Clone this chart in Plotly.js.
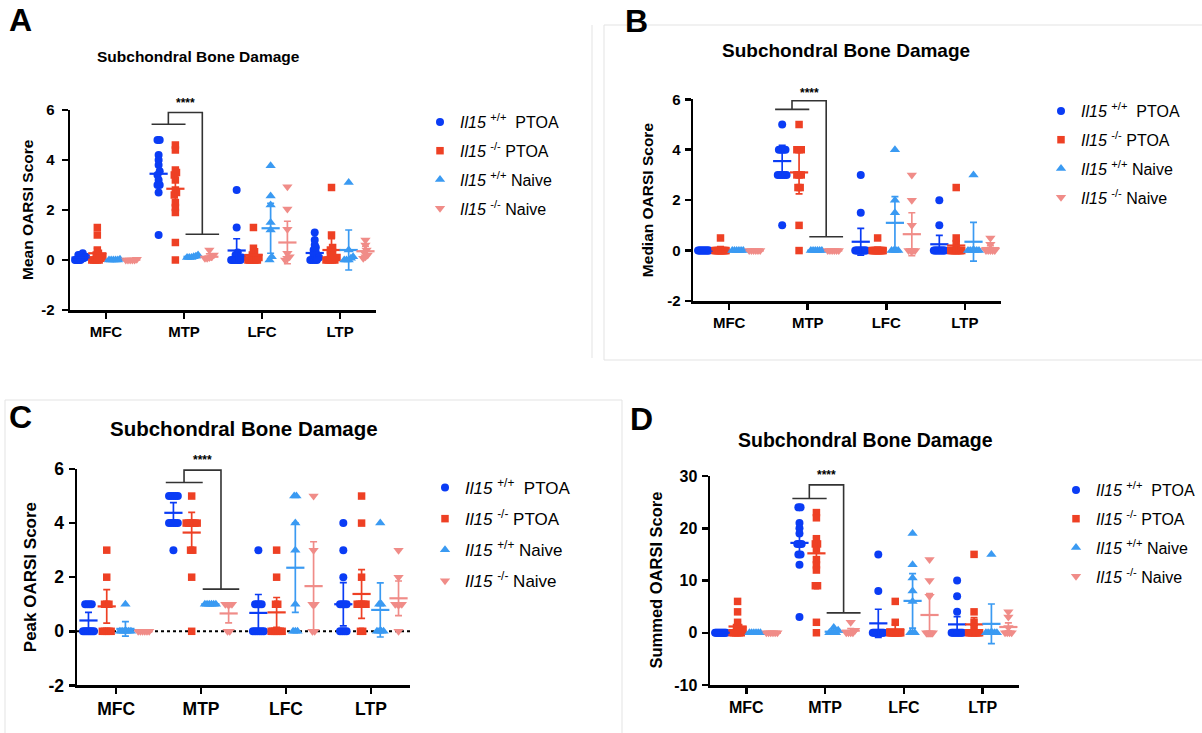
<!DOCTYPE html>
<html><head><meta charset="utf-8">
<script src="https://cdn.plot.ly/plotly-3.0.1.min.js"></script>
<style>html,body{margin:0;padding:0;background:#fff;}#chart{width:1202px;height:733px;}</style>
</head><body><div id="chart"></div>
<script>
// ---------- DATA ----------
const categories = ['MFC', 'MTP', 'LFC', 'LTP'];
const groupLabels = [
  '<i>Il15</i> <sup>+/+</sup>  PTOA',
  '<i>Il15</i> <sup>-/-</sup> PTOA',
  '<i>Il15</i> <sup>+/+</sup> Naive',
  '<i>Il15</i> <sup>-/-</sup> Naive'
];

// Panel A: Mean OARSI Score (per category: MFC, MTP, LFC, LTP)
const meanScore_wtPTOA = [
  [0.27, 0.2, 0.2, 0.13, 0.1, 0.07, 0.07, 0, 0, 0, 0, 0],
  [4.8, 4.8, 4.2, 4.0, 3.8, 3.55, 3.4, 3.2, 3.0, 3.0, 2.7, 1.0],
  [2.8, 1.3, 0.3, 0.2, 0.1, 0, 0, 0, 0, 0, 0, 0],
  [1.1, 0.8, 0.6, 0.5, 0.4, 0.3, 0.2, 0.1, 0, 0, 0, 0]
];
const meanScore_koPTOA = [
  [1.3, 1.0, 0.4, 0.27, 0.2, 0.13, 0.07, 0, 0, 0, 0, 0],
  [4.6, 4.4, 3.6, 3.5, 3.4, 3.2, 2.8, 2.7, 2.6, 2.3, 2.1, 1.9, 0.7, 0],
  [1.3, 0.47, 0.33, 0.2, 0.1, 0, 0, 0, 0, 0, 0, 0],
  [2.9, 1.0, 0.5, 0.4, 0.3, 0.2, 0.1, 0, 0, 0, 0, 0]
];
const meanScore_wtNaive = [
  [0.03, 0, 0, 0, 0, 0],
  [0.2, 0.15, 0.13, 0.1, 0.1, 0.1],
  [3.77, 2.56, 2.2, 1.5, 1.2, 0.13, 0],
  [3.1, 0.4, 0.13, 0.07, 0, 0, 0]
];
const meanScore_koNaive = [
  [0.03, 0, 0, 0, 0, 0],
  [0.4, 0.2, 0.13, 0.07, 0.07, 0.1],
  [2.93, 2.04, 1.23, 0.27, 0.13, 0.07, 0],
  [0.8, 0.6, 0.4, 0.3, 0.2, 0.13, 0.07]
];
const meanScore_avg = [[0.1, 3.45, 0.38, 0.28], [0.27, 2.85, 0.2, 0.4], [0.01, 0.13, 1.27, 0.4], [0.01, 0.13, 0.7, 0.35]];
const meanScore_err = [[0.06, 0.5, 0.47, 0.2], [0.2, 0.7, 0.2, 0.45], [0.01, 0.03, 1.0, 0.8], [0.01, 0.12, 0.85, 0.2]];
const meanScore_sig = [5.43, 5.9, 1.03, 6.27];   // left bar, top, right bar, stars

// Panel B: Median OARSI Score
const medianScore_wtPTOA = [
  [0, 0, 0, 0, 0, 0, 0, 0, 0, 0, 0, 0],
  [5, 4, 4, 4, 4, 3, 3, 3, 3, 3, 1],
  [3, 1.5, 0, 0, 0, 0, 0, 0, 0, 0, 0, 0],
  [2, 1, 0, 0, 0, 0, 0, 0, 0, 0, 0, 0]
];
const medianScore_koPTOA = [
  [0.5, 0, 0, 0, 0, 0, 0, 0, 0, 0, 0, 0],
  [5, 4, 4, 4, 3, 3, 3, 2.5, 2.5, 1, 0],
  [0.5, 0, 0, 0, 0, 0, 0, 0, 0, 0, 0, 0],
  [2.5, 0.5, 0.25, 0, 0, 0, 0, 0, 0, 0, 0, 0]
];
const medianScore_wtNaive = [
  [0, 0, 0, 0, 0, 0],
  [0, 0, 0, 0, 0, 0],
  [4, 2, 1.5, 0, 0, 0, 0],
  [3, 0, 0, 0, 0, 0, 0]
];
const medianScore_koNaive = [
  [0, 0, 0, 0, 0, 0],
  [0, 0, 0, 0, 0, 0],
  [3, 2, 1, 0, 0, 0, 0],
  [0.5, 0.25, 0, 0, 0, 0, 0]
];
const medianScore_avg = [[0, 3.55, 0.35, 0.25], [0.04, 3.1, 0.05, 0.2], [0, 0, 1.1, 0.35], [0, 0, 0.65, 0.1]];
const medianScore_err = [[0, 0.62, 0.53, 0.35], [0.12, 0.85, 0.08, 0.2], [0, 0, 1.04, 0.77], [0, 0, 0.85, 0.1]];
const medianScore_sig = [5.6, 5.94, 0.55, 6.26];

// Panel C: Peak OARSI Score
const peakScore_wtPTOA = [
  [1, 1, 1, 1, 0, 0, 0, 0, 0, 0, 0],
  [5, 5, 5, 5, 5, 4, 4, 4, 4, 4, 3],
  [3, 1, 1, 1, 1, 0, 0, 0, 0, 0, 0],
  [4, 3, 2, 1, 1, 1, 1, 0, 0, 0, 0]
];
const peakScore_koPTOA = [
  [3, 2, 1, 1, 1, 0, 0, 0, 0, 0],
  [5, 4, 4, 4, 4, 4, 4, 3, 3, 2, 0],
  [3, 2, 1, 1, 0, 0, 0, 0, 0, 0, 0],
  [5, 4, 2, 1, 1, 1, 1, 1, 0, 0]
];
const peakScore_wtNaive = [
  [1, 0, 0, 0, 0, 0, 0],
  [1, 1, 1, 1, 1, 1],
  [5, 5, 4, 3, 1, 0, 0, 0],
  [4, 1, 1, 0, 0, 0, 0]
];
const peakScore_koNaive = [
  [0, 0, 0, 0, 0, 0],
  [1, 1, 1, 1, 0, 0],
  [5, 3, 1, 1, 0, 0],
  [3, 2, 1, 1, 1, 1, 0]
];
const peakScore_avg = [[0.4, 4.38, 0.68, 1.0], [0.92, 3.65, 0.7, 1.38], [0.09, 1.0, 2.35, 0.79], [0, 0.66, 1.67, 1.22]];
const peakScore_err = [[0.3, 0.38, 0.68, 0.8], [0.62, 0.75, 0.55, 0.9], [0.27, 0.02, 1.65, 1.0], [0, 0.35, 1.64, 0.64]];
const peakScore_sig = [5.5, 5.96, 1.56, 6.33];

// Panel D: Summed OARSI Score
const summedScore_wtPTOA = [
  [0, 0, 0, 0, 0, 0, 0, 0, 0, 0, 0, 0],
  [24, 24, 21, 20, 19, 17, 17, 17, 15, 15, 13, 3],
  [15, 8, 0, 0, 0, 0, 0, 0, 0, 0, 0, 0],
  [10, 7, 4, 0, 0, 0, 0, 0, 0, 0, 0, 0]
];
const summedScore_koPTOA = [
  [6, 4, 2, 1, 1, 0.5, 0, 0, 0, 0, 0, 0],
  [23, 22, 18, 17, 17, 16, 14, 13, 12, 9, 9, 2, 0],
  [6, 2, 0, 0, 0, 0, 0, 0, 0, 0, 0, 0],
  [15, 4, 2, 1, 0, 0, 0, 0, 0, 0, 0, 0]
];
const summedScore_wtNaive = [
  [0, 0, 0, 0, 0, 0],
  [1, 0.5, 0, 0, 0, 0],
  [19, 13, 10.5, 8, 6, 0, 0, 0],
  [15, 0, 0, 0, 0, 0, 0]
];
const summedScore_koNaive = [
  [0, 0, 0, 0, 0, 0],
  [2, 0.5, 0, 0, 0, 0],
  [14, 10, 7, 0, 0, 0, 0],
  [4, 3, 1, 0, 0, 0, 0]
];
const summedScore_avg = [[0, 17.2, 1.8, 1.6], [1.2, 15.2, 0.67, 1.6], [0, 0.2, 6.1, 1.7], [0, 0.4, 3.4, 1.1]];
const summedScore_err = [[0, 2.0, 2.7, 1.5], [1.0, 3.0, 0.9, 1.3], [0, 0.2, 5.2, 3.8], [0, 0.4, 4.1, 0.8]];
const summedScore_sig = [25.7, 28.3, 3.8, 30.2];

// ---------- STYLE / LAYOUT ----------
const W = 1202, H = 733;
const px = x => x / W, py = y => 1 - y / H;
const FONT = 'Liberation Sans, Arial, Helvetica, sans-serif';
const colors = ['#0a3cf5', '#ee4024', '#3a9af2', '#f08c88'];
const symbols = ['circle', 'square', 'triangle-up', 'triangle-down'];
const msizes = [8, 7.5, 9, 9];
const offsets = [-0.325, -0.11, 0.11, 0.325];
const xRange = [0.54, 4.46];

const panels = [
  {data: [meanScore_wtPTOA, meanScore_koPTOA, meanScore_wtNaive, meanScore_koNaive], avg: meanScore_avg, err: meanScore_err, sig: meanScore_sig,
   dom: [70, 376, 110, 310], yr: [-2, 6], dtick: 2, ytitle: 'Mean OARSI Score', ytX: 28, ytSize: 15.5, tickSize: 15, standoff: 4,
   title: [198, 57, 15.5], letter: ['A', 20, 20], leg: [420, 105, 16, 5], dotted: false},
  {data: [medianScore_wtPTOA, medianScore_koPTOA, medianScore_wtNaive, medianScore_koNaive], avg: medianScore_avg, err: medianScore_err, sig: medianScore_sig,
   dom: [693, 1001, 99.3, 301], yr: [-2, 6], dtick: 2, ytitle: 'Median OARSI Score', ytX: 647, ytSize: 15.5, tickSize: 15, standoff: 1,
   title: [846, 51, 19], letter: ['B', 636, 21], leg: [1041, 94, 16, 5], dotted: false},
  {data: [peakScore_wtPTOA, peakScore_koPTOA, peakScore_wtNaive, peakScore_koNaive], avg: peakScore_avg, err: peakScore_err, sig: peakScore_sig,
   dom: [77, 410, 469, 685.4], yr: [-2, 6], dtick: 2, ytitle: 'Peak OARSI Score', ytX: 30, ytSize: 17, tickSize: 17.5, standoff: 1,
   title: [244, 428, 20.5], letter: ['C', 20, 417], leg: [425, 470, 17, 6], dotted: true},
  {data: [summedScore_wtPTOA, summedScore_koPTOA, summedScore_wtNaive, summedScore_koNaive], avg: summedScore_avg, err: summedScore_err, sig: summedScore_sig,
   dom: [710, 1019, 476, 685], yr: [-10, 30], dtick: 10, ytitle: 'Summed OARSI Score', ytX: 655, ytSize: 16.5, tickSize: 16, standoff: 1,
   title: [865, 440, 19.5], letter: ['D', 641, 419], leg: [1056, 473, 16, 5], dotted: false}
];

// deterministic horizontal spread of coincident points (scatter-dot style)
function spread(vals, center, tol, step, maxHalf) {
  const idx = vals.map((v, i) => i).sort((a, b) => vals[a] - vals[b]);
  const xs = new Array(vals.length);
  let i = 0;
  while (i < idx.length) {
    let j = i;
    while (j + 1 < idx.length && vals[idx[j + 1]] - vals[idx[i]] < tol) j++;
    const n = j - i + 1;
    const s = n > 1 ? Math.min(step, 2 * maxHalf / (n - 1)) : 0;
    for (let k = 0; k < n; k++) xs[idx[i + k]] = center + (k - (n - 1) / 2) * s;
    i = j + 1;
  }
  return xs;
}

const traces = [];
const layout = {
  width: W, height: H, margin: {l: 0, r: 0, t: 0, b: 0},
  paper_bgcolor: '#fff', plot_bgcolor: 'rgba(0,0,0,0)',
  font: {family: FONT, color: '#000'},
  annotations: [], shapes: []
};

panels.forEach((p, pi) => {
  const s = pi === 0 ? '' : String(pi + 1);
  const xa = 'x' + s, ya = 'y' + s;
  const legId = pi === 0 ? 'legend' : 'legend' + (pi + 1);
  const pxPerCat = (p.dom[1] - p.dom[0]) / (xRange[1] - xRange[0]);
  const unitsPerPx = (p.yr[1] - p.yr[0]) / (p.dom[3] - p.dom[2]);
  const tol = 4 * unitsPerPx;

  p.data.forEach((groupData, g) => {
    const xs = [], ys = [];
    groupData.forEach((vals, c) => {
      const xv = spread(vals, c + 1 + offsets[g], tol, 2.2 / pxPerCat, 5.5 / pxPerCat);
      xv.forEach((x, k) => { xs.push(x); ys.push(vals[k]); });
    });
    traces.push({
      type: 'scatter', mode: 'markers', x: xs, y: ys, xaxis: xa, yaxis: ya,
      name: groupLabels[g], legend: legId, legendgroup: 'p' + pi + 'g' + g, showlegend: true,
      marker: {symbol: symbols[g], size: msizes[g], color: colors[g], line: {width: 0}},
      cliponaxis: false, hoverinfo: 'skip'
    });
  });
  p.data.forEach((groupData, g) => {
    traces.push({
      type: 'scatter', mode: 'markers', xaxis: xa, yaxis: ya, showlegend: false, hoverinfo: 'skip',
      x: categories.map((c, ci) => ci + 1 + offsets[g]), y: p.avg[g],
      marker: {symbol: 'line-ew', size: 13, color: colors[g], line: {width: 2.2, color: colors[g]}},
      error_y: {type: 'data', array: p.err[g], visible: true, color: colors[g], thickness: 1.7, width: 3.5},
      cliponaxis: false
    });
  });

  const axFont = {family: FONT, size: p.tickSize, color: '#000', weight: 'bold'};
  const yTicks = [];
  for (let v = p.yr[0]; v <= p.yr[1] + 1e-9; v += p.dtick) yTicks.push(v);
  layout['xaxis' + s] = {
    domain: [px(p.dom[0]), px(p.dom[1])], range: xRange, anchor: ya,
    tickvals: [1, 2, 3, 4], ticktext: categories, tickfont: axFont,
    showline: true, linewidth: 2.5, linecolor: '#000', ticks: 'outside', ticklen: 6, tickwidth: 2.5, tickcolor: '#000',
    showgrid: false, zeroline: false, fixedrange: true
  };
  layout['yaxis' + s] = {
    domain: [py(p.dom[3]), py(p.dom[2])], range: p.yr, anchor: xa,
    tickvals: yTicks, ticktext: yTicks.map(v => String(v)), tickfont: axFont, ticklabelstandoff: p.standoff,
    showline: true, linewidth: 2.5, linecolor: '#000', ticks: 'outside', ticklen: 6, tickwidth: 2.5, tickcolor: '#000',
    showgrid: false, zeroline: false, fixedrange: true
  };
  layout[legId] = {
    x: px(p.leg[0]), y: py(p.leg[1]), xanchor: 'left', yanchor: 'top', bgcolor: 'rgba(0,0,0,0)',
    font: {family: FONT, size: p.leg[2], color: '#000'}, tracegroupgap: p.leg[3], itemclick: false
  };

  // significance bracket
  const sg = p.sig;
  layout.shapes.push({
    type: 'path', xref: xa, yref: ya, line: {color: '#333', width: 1.6},
    path: `M ${2 - 0.415} ${sg[0]} L ${2 + 0.02} ${sg[0]} M ${2 - 0.2} ${sg[0]} L ${2 - 0.2} ${sg[1]} L ${2 + 0.235} ${sg[1]} L ${2 + 0.235} ${sg[2]} M ${2 + 0.02} ${sg[2]} L ${2 + 0.45} ${sg[2]}`
  });
  layout.annotations.push({xref: xa, yref: ya + ' domain', x: 2.02, y: (sg[3] - p.yr[0]) / (p.yr[1] - p.yr[0]),
    text: '<b>****</b>', showarrow: false,
    font: {family: FONT, size: 12, color: '#000'}, xanchor: 'center', yanchor: 'middle'});

  if (p.dotted) {
    layout.shapes.push({type: 'line', xref: xa + ' domain', yref: ya, x0: 0, x1: 1, y0: 0, y1: 0, layer: 'below',
      line: {color: '#000', width: 2, dash: 'dot'}});
  }

  // y-axis title
  layout.annotations.push({xref: 'paper', yref: 'paper', x: px(p.ytX), y: py((p.dom[2] + p.dom[3]) / 2),
    text: '<b>' + p.ytitle + '</b>', textangle: -90, showarrow: false, xanchor: 'center', yanchor: 'middle',
    font: {family: FONT, size: p.ytSize, color: '#000'}});
  // panel title
  layout.annotations.push({xref: 'paper', yref: 'paper', x: px(p.title[0]), y: py(p.title[1]),
    text: '<b>Subchondral Bone Damage</b>', showarrow: false, xanchor: 'center', yanchor: 'middle',
    font: {family: FONT, size: p.title[2], color: '#000'}});
  // panel letter
  layout.annotations.push({xref: 'paper', yref: 'paper', x: px(p.letter[1]), y: py(p.letter[2]),
    text: '<b>' + p.letter[0] + '</b>', showarrow: false, xanchor: 'center', yanchor: 'middle',
    font: {family: FONT, size: 32, color: '#000'}});
});

// faint panel frames
const frame = {color: '#e3e3e3', width: 1};
[[592, 25, 592, 358], [604, 25, 604, 360], [604, 25, 1202, 25], [604, 360, 1202, 360],
 [5, 400, 622, 400], [622, 400, 622, 733], [5, 400, 5, 733]].forEach(l => {
  layout.shapes.push({type: 'line', xref: 'paper', yref: 'paper', x0: px(l[0]), y0: py(l[1]), x1: px(l[2]), y1: py(l[3]), line: frame, layer: 'below'});
});

Plotly.newPlot('chart', traces, layout, {displayModeBar: false, staticPlot: true});
</script>
</body></html>
